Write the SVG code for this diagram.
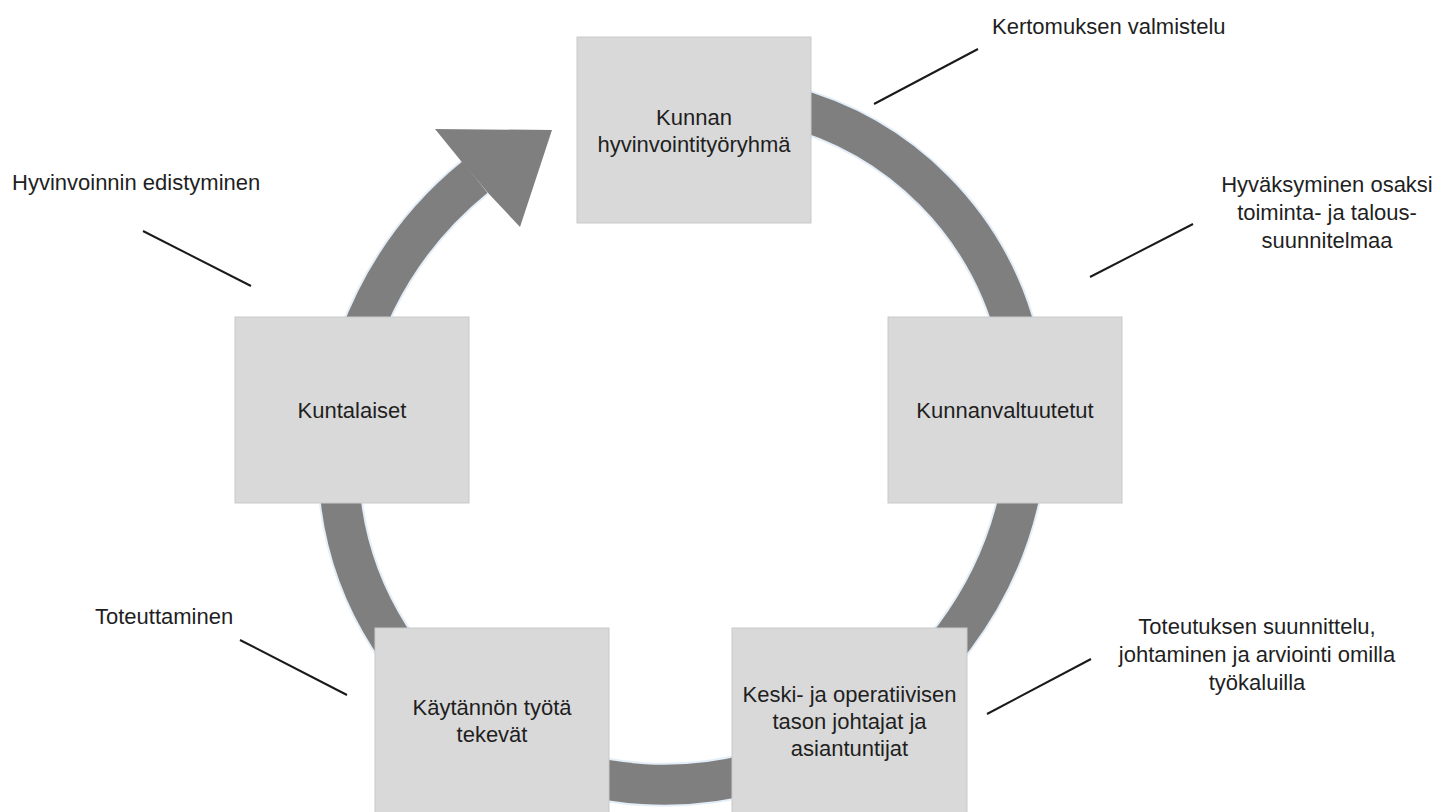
<svg xmlns="http://www.w3.org/2000/svg" width="1434" height="812" viewBox="0 0 1434 812">
  <style>
    .box { fill: #d9d9d9; stroke: #c9c9c9; stroke-width: 1; }
    .t { font-family: "Liberation Sans", Arial, sans-serif; font-size: 22px; fill: #1f1f1f; }
    .c { text-anchor: middle; }
    .ring { fill: none; stroke: #7f7f7f; stroke-width: 40; }
    .glow { fill: none; stroke: #e4eef9; stroke-width: 44; }
    .lead { stroke: #1a1a1a; stroke-width: 2; fill: none; }
  </style>
  <rect width="1434" height="812" fill="#ffffff"/>
  <g id="connectors">
    <path class="glow" d="M 632.6 102.4 A 354 335 -45 1 1 474.9 177.1"/>
    <path class="ring" d="M 632.6 102.4 A 354 335 -45 1 1 474.9 177.1"/>
    <polygon points="461,161 435,129 552,130 520,227 489,194" fill="#7f7f7f"/>
    <line class="lead" x1="874" y1="104" x2="978" y2="49"/>
    <line class="lead" x1="1090" y1="277" x2="1193" y2="224"/>
    <line class="lead" x1="143" y1="231" x2="251" y2="286"/>
    <line class="lead" x1="240" y1="640" x2="347" y2="695"/>
    <line class="lead" x1="987" y1="714" x2="1091" y2="659"/>
  </g>
  <g id="node-hyvinvointityoryhma">
    <rect class="box" x="577" y="37" width="234" height="186"/>
    <text class="t c" x="694" y="125">Kunnan</text>
    <text class="t c" x="694" y="152">hyvinvointityöryhmä</text>
  </g>
  <g id="node-kunnanvaltuutetut">
    <rect class="box" x="888" y="317" width="234" height="186"/>
    <text class="t c" x="1005" y="418">Kunnanvaltuutetut</text>
  </g>
  <g id="node-kuntalaiset">
    <rect class="box" x="235" y="317" width="234" height="186"/>
    <text class="t c" x="352" y="418">Kuntalaiset</text>
  </g>
  <g id="node-kaytannon">
    <rect class="box" x="375" y="628" width="234" height="190"/>
    <text class="t c" x="492" y="715">Käytännön työtä</text>
    <text class="t c" x="492" y="742">tekevät</text>
  </g>
  <g id="node-keski">
    <rect class="box" x="732" y="628" width="235" height="190"/>
    <text class="t c" x="849.5" y="702">Keski- ja operatiivisen</text>
    <text class="t c" x="849.5" y="729">tason johtajat ja</text>
    <text class="t c" x="849.5" y="756">asiantuntijat</text>
  </g>
  <g id="label-kertomus">
    <text class="t" x="992" y="34">Kertomuksen valmistelu</text>
  </g>
  <g id="label-hyvaksyminen">
    <text class="t c" x="1327" y="192">Hyväksyminen osaksi</text>
    <text class="t c" x="1327" y="220">toiminta- ja talous-</text>
    <text class="t c" x="1327" y="248">suunnitelmaa</text>
  </g>
  <g id="label-edistyminen">
    <text class="t" x="12" y="190">Hyvinvoinnin edistyminen</text>
  </g>
  <g id="label-toteuttaminen">
    <text class="t" x="95" y="624">Toteuttaminen</text>
  </g>
  <g id="label-toteutuksen">
    <text class="t c" x="1257" y="634">Toteutuksen suunnittelu,</text>
    <text class="t c" x="1257" y="662">johtaminen ja arviointi omilla</text>
    <text class="t c" x="1257" y="690">työkaluilla</text>
  </g>
</svg>
